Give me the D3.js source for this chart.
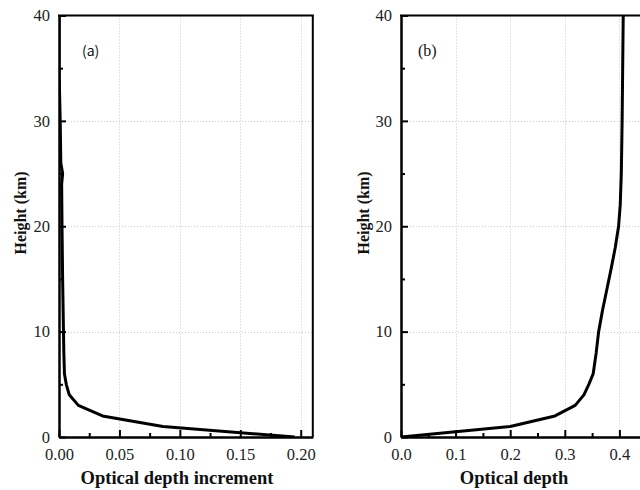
<!DOCTYPE html>
<html>
<head>
<meta charset="utf-8">
<script src="https://cdn.jsdelivr.net/npm/d3@7"></script>
<style>
  html, body { margin: 0; padding: 0; background: #fff; }
  svg { display: block; }
  .tick text { font-family: "Liberation Serif", "Times New Roman", serif; font-size: 16.5px; fill: #222; }
  .x-title { font-family: "Liberation Serif", "Times New Roman", serif; font-size: 18.5px; font-weight: bold; fill: #111; }
  .y-title { font-family: "Liberation Serif", "Times New Roman", serif; font-size: 16px; font-weight: bold; fill: #111; }
</style>
</head>
<body>
<svg id="chart" width="640" height="490"></svg>
<script>
// Height levels (km) for the per-layer increment profile
const heightKm = [0, 1, 2, 3, 4, 5, 6, 8, 10, 15, 20, 24, 25, 26, 30, 35, 40];
// Per-layer optical depth increment
const depthIncrement = [0.195, 0.086, 0.036, 0.016, 0.0085, 0.006, 0.0045, 0.004, 0.0037, 0.003, 0.0025, 0.0022, 0.003, 0.0015, 0.001, 0.0, 0.0];

// Height levels (km) for the cumulative optical depth profile
const depthHeight = [0, 0.5, 1, 2, 3, 4, 5, 6, 8, 10, 12, 14, 16, 18, 20, 22, 25, 30, 40];
// Cumulative optical depth
const depthCumulative = [0.0, 0.1, 0.2, 0.282, 0.319, 0.335, 0.344, 0.352, 0.3575, 0.362, 0.369, 0.377, 0.385, 0.3925, 0.3985, 0.4015, 0.4035, 0.405, 0.407];

const yTicks = [0, 10, 20, 30, 40];
const yMinor = [5, 15, 25, 35];
const xTicksA = [0, 0.05, 0.10, 0.15, 0.20];
const xMinorA = [0.025, 0.075, 0.125, 0.175];
const xTicksB = [0, 0.1, 0.2, 0.3, 0.4];
const xMinorB = [0.05, 0.15, 0.25, 0.35];

const svg = d3.select("#chart");
const yTop = 15.5, yBottom = 437;

const y = d3.scaleLinear().domain([0, 40]).range([yBottom, yTop]);

function panel(opts) {
  const g = svg.append("g");
  const x = opts.x;
  const [x0, x1] = x.range();

  const clipId = "clip-" + opts.id;
  svg.append("clipPath").attr("id", clipId)
    .append("rect").attr("x", x0).attr("y", yTop).attr("width", x1 - x0).attr("height", yBottom - yTop);

  // dotted grid at major ticks
  const grid = g.append("g").attr("stroke", "#c8c8c8").attr("stroke-width", 1).attr("stroke-dasharray", "1,2");
  grid.selectAll("line.gx").data(opts.xTicks.filter(v => v > 0)).join("line")
    .attr("x1", d => Math.round(x(d)) + 0.5).attr("x2", d => Math.round(x(d)) + 0.5)
    .attr("y1", yTop).attr("y2", yBottom);
  grid.selectAll("line.gy").data([10, 20, 30]).join("line")
    .attr("x1", x0).attr("x2", x1)
    .attr("y1", d => Math.round(y(d)) + 0.5).attr("y2", d => Math.round(y(d)) + 0.5);

  // profile curve
  const line = d3.line().x(d => x(d[0])).y(d => y(d[1]));
  g.append("path")
    .datum(opts.values.map((v, i) => [v, opts.heights[i]]))
    .attr("clip-path", `url(#${clipId})`)
    .attr("fill", "none").attr("stroke", "#000").attr("stroke-width", 3)
    .attr("stroke-linejoin", "round")
    .attr("d", line);

  // axes with inward ticks
  const styleAxis = sel => {
    sel.select(".domain").attr("stroke", "#000").attr("stroke-width", 2);
    sel.selectAll(".tick line").attr("stroke", "#000").attr("stroke-width", 2);
  };
  g.append("g").attr("transform", `translate(${x0},0)`)
    .call(d3.axisLeft(y).tickValues(yTicks).tickSizeInner(-7).tickSizeOuter(0).tickPadding(9).tickFormat(d3.format("d")))
    .call(styleAxis)
    .call(s => s.selectAll("text").attr("font-family", null).attr("font-size", null));
  g.append("g").attr("transform", `translate(${x0},0)`)
    .call(d3.axisLeft(y).tickValues(yMinor).tickSizeInner(-4).tickSizeOuter(0).tickFormat(""))
    .call(styleAxis);
  g.append("g").attr("transform", `translate(0,${yBottom})`)
    .call(d3.axisBottom(x).tickValues(opts.xTicks).tickSizeInner(-7).tickSizeOuter(0).tickPadding(11).tickFormat(opts.fmt))
    .call(styleAxis)
    .call(s => s.selectAll("text").attr("font-family", null).attr("font-size", null));
  g.append("g").attr("transform", `translate(0,${yBottom})`)
    .call(d3.axisBottom(x).tickValues(opts.xMinor).tickSizeInner(-4).tickSizeOuter(0).tickFormat(""))
    .call(styleAxis);

  // top and right frame
  g.append("line").attr("x1", x0 - 1).attr("x2", x1 + 1).attr("y1", yTop).attr("y2", yTop)
    .attr("stroke", "#000").attr("stroke-width", 2);
  g.append("line").attr("x1", x1).attr("x2", x1).attr("y1", yTop).attr("y2", yBottom)
    .attr("stroke", "#000").attr("stroke-width", 2);

  // titles
  g.append("text").attr("class", "x-title")
    .attr("x", opts.xTitleX).attr("y", 484).attr("text-anchor", "middle")
    .text(opts.xTitle);
  g.append("text").attr("class", "y-title")
    .attr("transform", `translate(${opts.yTitleX},213) rotate(-90)`)
    .attr("text-anchor", "middle")
    .text("Height (km)");
  g.append("text")
    .attr("x", opts.tagX).attr("y", 56)
    .attr("font-family", opts.tagFont).attr("font-size", opts.tagSize).attr("fill", "#111")
    .text(opts.tag);
}

panel({
  id: "a",
  x: d3.scaleLinear().domain([0, 0.21]).range([59, 312.8]),
  xTicks: xTicksA, xMinor: xMinorA, fmt: d3.format(".2f"),
  values: depthIncrement, heights: heightKm,
  xTitle: "Optical depth increment", xTitleX: 177, yTitleX: 26,
  tag: "(a)", tagX: 82, tagFont: "'Noto Sans CJK SC', 'DejaVu Sans', sans-serif", tagSize: 14
});

panel({
  id: "b",
  x: d3.scaleLinear().domain([0, 0.45]).range([401, 401 + 0.45 * 546]),
  xTicks: xTicksB, xMinor: xMinorB, fmt: d3.format(".1f"),
  values: depthCumulative, heights: depthHeight,
  xTitle: "Optical depth", xTitleX: 514, yTitleX: 369,
  tag: "(b)", tagX: 418, tagFont: "'Liberation Serif', serif", tagSize: 16
});
</script>
</body>
</html>
